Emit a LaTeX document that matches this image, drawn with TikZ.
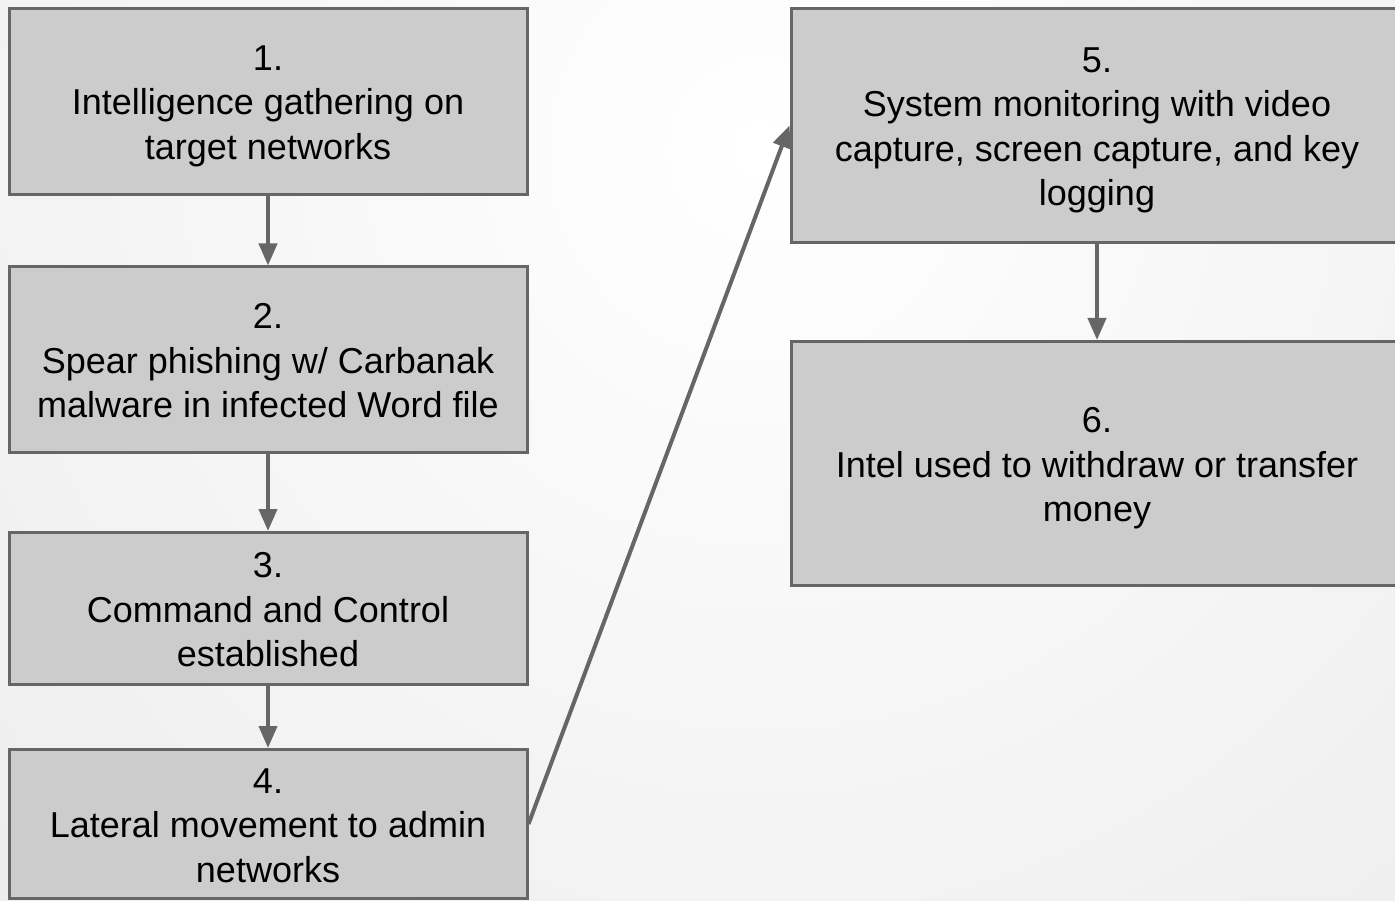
\documentclass[tikz,border=0pt]{standalone}
\usepackage{fontspec}
\setmainfont{Liberation Sans}
\usetikzlibrary{arrows.meta}
\definecolor{boxfill}{HTML}{CCCCCC}
\definecolor{boxline}{HTML}{666666}
\definecolor{bgedge}{HTML}{E0E0E0}
\newcommand{\mystrut}{\rule[-9pt]{0pt}{45pt}}
\begin{document}
\begin{tikzpicture}[x=1pt,y=-1pt,
  stepbox/.style={draw=boxline, fill=boxfill, line width=3pt, align=center,
    font=\fontsize{36}{44.5}\selectfont, inner sep=0pt},
  conn/.style={draw=boxline, line width=4pt, -{Triangle[length=22pt,width=18pt]}}]
\useasboundingbox (0,0) rectangle (1395,901);
\clip (0,0) rectangle (1395,901);
\fill[bgedge] (0,0) rectangle (1395,901);
\shade[inner color=white, outer color=bgedge] (760,150) circle (1900);
\node[stepbox, minimum width=518pt, minimum height=186pt] (b1) at (268,101.5) {\mystrut 1.\\Intelligence gathering on\\\mystrut target networks};
\node[stepbox, minimum width=518pt, minimum height=185pt] (b2) at (268,359.5) {\mystrut 2.\\Spear phishing w/ Carbanak\\\mystrut malware in infected Word file};
\node[stepbox, minimum width=518pt, minimum height=152pt] (b3) at (268,608.5) {\mystrut 3.\\Command and Control\\\mystrut established};
\node[stepbox, minimum width=518pt, minimum height=149pt] (b4) at (268,824) {\mystrut 4.\\Lateral movement to admin\\\mystrut networks};
\node[stepbox, minimum width=612pt, minimum height=234pt] (b5) at (1097,125.5) {\mystrut 5.\\System monitoring with video\\capture, screen capture, and key\\\mystrut logging};
\node[stepbox, minimum width=612pt, minimum height=244pt] (b6) at (1097,463.5) {\mystrut 6.\\Intel used to withdraw or transfer\\\mystrut money};
\draw[conn] (b1) -- (b2);
\draw[conn] (b2) -- (b3);
\draw[conn] (b3) -- (b4);
\draw[conn] (b4.east) -- (b5.west);
\draw[conn] (b5) -- (b6);
\end{tikzpicture}
\end{document}
